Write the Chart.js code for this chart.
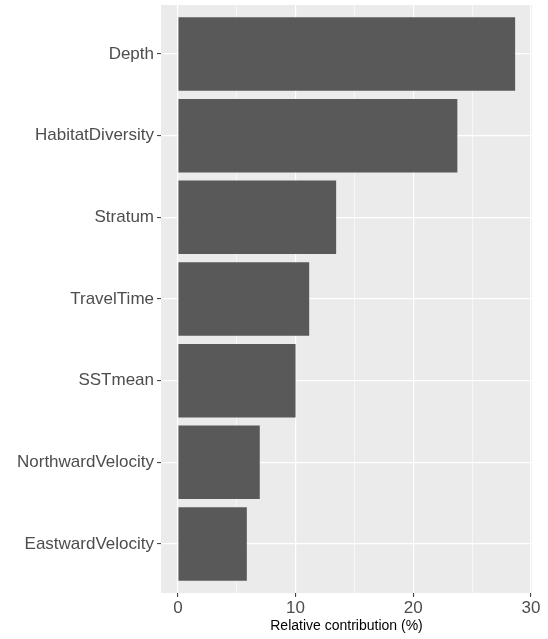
<!DOCTYPE html>
<html>
<head>
<meta charset="utf-8">
<script src="https://cdn.jsdelivr.net/npm/chart.js@4"></script>
<style>
  html, body { margin: 0; padding: 0; background: #fff; }
  #wrap { width: 548px; height: 639px; }
</style>
</head>
<body>
<div id="wrap"><canvas id="importanceChart"></canvas></div>
<script>
const categories = ['Depth', 'HabitatDiversity', 'Stratum', 'TravelTime', 'SSTmean', 'NorthwardVelocity', 'EastwardVelocity'];
const contribution = [28.66, 23.75, 13.45, 11.16, 10.0, 6.96, 5.86];
const xTicks = [0, 10, 20, 30];

// ggplot style 5% expansion on the value axis
const maxVal = Math.max(...contribution);
const pad = maxVal * 0.05;

const panelBg = {
  id: 'panelBg',
  beforeDraw(chart) {
    const { ctx, chartArea: a } = chart;
    ctx.save();
    ctx.fillStyle = '#EBEBEB';
    ctx.fillRect(a.left, a.top, a.right - a.left, a.bottom - a.top);
    ctx.restore();
  }
};

const isMajor = v => xTicks.includes(v);

const ctx = document.getElementById('importanceChart').getContext('2d');
new Chart(ctx, {
  type: 'bar',
  data: {
    datasets: [{
      data: contribution.map((v, i) => ({ x: v, y: i })),
      backgroundColor: '#595959',
      borderWidth: 0,
      categoryPercentage: 0.9,
      barPercentage: 1
    }]
  },
  options: {
    indexAxis: 'y',
    responsive: true,
    maintainAspectRatio: false,
    animation: false,
    layout: { padding: { top: 5, right: 16, left: 0, bottom: 0 } },
    plugins: {
      legend: { display: false },
      tooltip: { enabled: false }
    },
    scales: {
      x: {
        type: 'linear',
        min: -pad,
        max: maxVal + pad,
        afterFit: s => { s.height = 46; s.paddingLeft = 0; s.paddingRight = 0; },
        border: { display: false },
        grid: {
          color: '#FFFFFF',
          lineWidth: c => isMajor(c.tick.value) ? 1.2 : 0.6,
          tickLength: 4,
          tickColor: c => isMajor(c.tick.value) ? '#333333' : 'rgba(0,0,0,0)',
          tickWidth: 1
        },
        ticks: {
          stepSize: 5,
          includeBounds: false,
          autoSkip: false,
          maxRotation: 0,
          padding: 1,
          color: '#4D4D4D',
          font: { family: "'Liberation Sans', Arial, sans-serif", size: 17 },
          callback: v => isMajor(v) ? String(v) : ''
        },
        title: {
          display: true,
          text: 'Relative contribution (%)',
          color: '#000000',
          font: { family: "'Liberation Sans', Arial, sans-serif", size: 14 },
          padding: { top: 0, bottom: 4 }
        }
      },
      y: {
        type: 'linear',
        reverse: true,
        offset: false,
        min: -0.6,
        max: categories.length - 1 + 0.6,
        afterFit: s => { s.width = 161; s.paddingTop = 0; s.paddingBottom = 0; },
        border: { display: false },
        grid: {
          offset: false,
          color: '#FFFFFF',
          lineWidth: 1.2,
          tickLength: 4,
          tickColor: '#333333',
          tickWidth: 1
        },
        ticks: {
          stepSize: 1,
          includeBounds: false,
          autoSkip: false,
          padding: 3,
          color: '#4D4D4D',
          font: { family: "'Liberation Sans', Arial, sans-serif", size: 17 },
          callback: v => categories[v] ?? ''
        }
      }
    }
  },
  plugins: [panelBg]
});
</script>
</body>
</html>
